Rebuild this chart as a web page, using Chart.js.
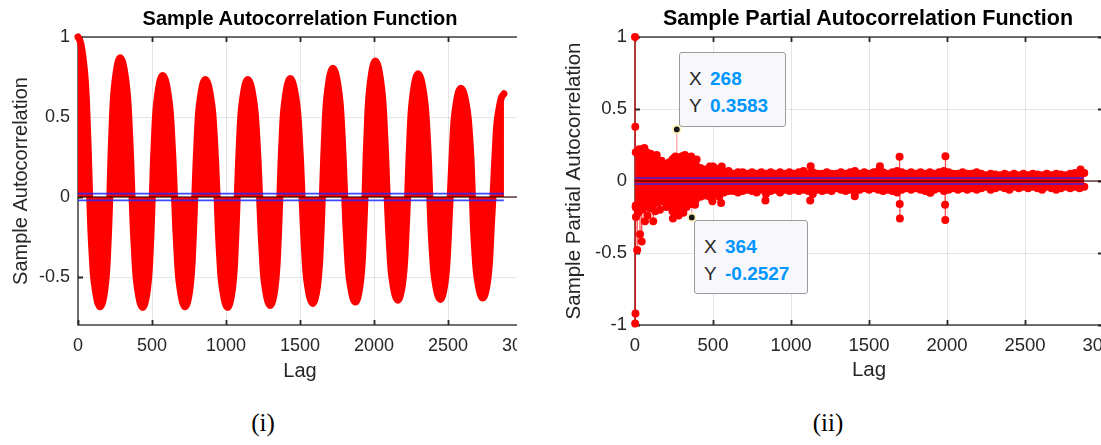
<!DOCTYPE html>
<html><head><meta charset="utf-8">
<script src="https://cdn.jsdelivr.net/npm/chart.js@4.4.0/dist/chart.umd.min.js"></script>
<style>
html,body{margin:0;padding:0;background:#fff;overflow:hidden;width:1101px;height:445px;}
.panel{position:absolute;top:0;height:400px;overflow:hidden;}
#p1{left:0;width:517px;}
#p2{left:550px;width:551px;}
.ttl{position:absolute;font-weight:bold;font-family:"Liberation Sans",Arial,sans-serif;color:#000;white-space:nowrap;transform:translateX(-50%);}
.cap{position:absolute;top:409px;font:25px "Liberation Serif","Times New Roman",serif;color:#000;transform:translateX(-50%);}
.tip{position:absolute;box-sizing:border-box;background:#f8f8fc;border:1px solid #9a9a9a;border-radius:3px;
 font:19px "Liberation Sans",Arial,sans-serif;color:#262626;line-height:27px;padding:12px 0 0 9px;white-space:nowrap;}
.tip .k{display:inline-block;width:21px;}
.tip b{color:#0096ff;}
</style></head>
<body>
<div class="panel" id="p1"><canvas id="c1" width="600" height="400"></canvas></div>
<div class="panel" id="p2"><canvas id="c2" width="600" height="400"></canvas></div>
<div class="ttl" style="left:300px;top:7px;font-size:20px">Sample Autocorrelation Function</div>
<div class="ttl" style="left:868px;top:6px;font-size:21.5px">Sample Partial Autocorrelation Function</div>
<div class="tip" style="left:679px;top:52px;width:107px;height:75px"><span class="k">X</span><b>268</b><br><span class="k">Y</span><b>0.3583</b></div>
<div class="tip" style="left:694px;top:220px;width:114px;height:74px"><span class="k">X</span><b>364</b><br><span class="k">Y</span><b>-0.2527</b></div>
<div class="cap" style="left:263px">(i)</div>
<div class="cap" style="left:828px">(ii)</div>
<script>
// ---------- data ----------
const xTicks = [0, 500, 1000, 1500, 2000, 2500, 3000];
const acfYTicks = [-0.5, 0, 0.5, 1];
const pacfYTicks = [-1, -0.5, 0, 0.5, 1];
const confBound = 0.021;
const maxLag = 2877;

const acfLags = [0,19,38,50,58,69,79,
87,98,105,116,133,151,166,182,191,198,207,215,
223,233,240,251,268,285,304,323,335,343,355,365,
374,385,392,403,420,438,453,469,478,485,494,502,
510,520,527,538,555,572,591,610,622,630,642,652,
661,672,679,690,707,725,740,756,765,772,781,789,
798,808,815,826,843,860,879,898,910,918,930,940,
948,959,966,977,994,1012,1027,1043,1052,1059,1068,1076,
1085,1095,1102,1113,1130,1147,1166,1185,1197,1205,1217,1227,
1236,1247,1254,1265,1282,1300,1315,1331,1340,1347,1356,1364,
1372,1382,1389,1400,1417,1434,1453,1472,1484,1492,1504,1514,
1523,1534,1541,1552,1569,1587,1602,1618,1627,1634,1643,1651,
1660,1670,1677,1688,1705,1722,1741,1760,1772,1780,1792,1802,
1811,1822,1829,1840,1857,1875,1890,1906,1915,1922,1931,1939,
1947,1957,1964,1975,1992,2009,2028,2047,2059,2067,2079,2089,
2098,2109,2116,2127,2144,2162,2177,2193,2202,2209,2218,2227,
2236,2246,2253,2264,2281,2298,2317,2336,2348,2356,2368,2377,
2385,2396,2403,2414,2431,2449,2464,2480,2489,2496,2505,2515,
2525,2535,2542,2553,2570,2587,2606,2625,2637,2645,2657,2665,
2672,2683,2690,2701,2718,2736,2751,2767,2776,2783,2792,2804,
2814,2824,2831,2843,2860,2878];
const acfValues = [1.0,0.96,0.84,0.72,0.58,0.30,0,
-0.206,-0.398,-0.494,-0.576,-0.659,-0.686,-0.659,-0.576,-0.494,-0.398,-0.206,0,
0.261,0.505,0.626,0.731,0.835,0.87,0.835,0.731,0.626,0.505,0.261,0,
-0.207,-0.400,-0.497,-0.580,-0.662,-0.69,-0.662,-0.580,-0.497,-0.400,-0.207,0,
0.228,0.441,0.547,0.638,0.730,0.76,0.730,0.638,0.547,0.441,0.228,0,
-0.206,-0.398,-0.494,-0.576,-0.659,-0.686,-0.659,-0.576,-0.494,-0.398,-0.206,0,
0.221,0.426,0.529,0.617,0.706,0.735,0.706,0.617,0.529,0.426,0.221,0,
-0.207,-0.400,-0.497,-0.580,-0.662,-0.69,-0.662,-0.580,-0.497,-0.400,-0.207,0,
0.221,0.426,0.529,0.617,0.706,0.735,0.706,0.617,0.529,0.426,0.221,0,
-0.203,-0.393,-0.488,-0.570,-0.651,-0.678,-0.651,-0.570,-0.488,-0.393,-0.203,0,
0.222,0.429,0.533,0.622,0.710,0.74,0.710,0.622,0.533,0.429,0.222,0,
-0.200,-0.386,-0.479,-0.559,-0.638,-0.665,-0.638,-0.559,-0.479,-0.386,-0.200,0,
0.242,0.467,0.580,0.676,0.773,0.805,0.773,0.676,0.580,0.467,0.242,0,
-0.197,-0.381,-0.473,-0.552,-0.631,-0.657,-0.631,-0.552,-0.473,-0.381,-0.197,0,
0.255,0.493,0.612,0.714,0.816,0.85,0.816,0.714,0.612,0.493,0.255,0,
-0.194,-0.374,-0.464,-0.542,-0.619,-0.645,-0.619,-0.542,-0.464,-0.374,-0.194,0,
0.231,0.447,0.554,0.647,0.739,0.77,0.739,0.647,0.554,0.447,0.231,0,
-0.192,-0.371,-0.461,-0.538,-0.614,-0.64,-0.614,-0.538,-0.461,-0.371,-0.192,0,
0.204,0.394,0.490,0.571,0.653,0.68,0.653,0.571,0.490,0.394,0.204,0,
-0.190,-0.367,-0.455,-0.531,-0.607,-0.632,-0.607,-0.531,-0.455,-0.367,-0.190,0,
0.194,0.374,0.464,0.542,0.619,0.645];

const pacfBandLags = [5,30,60,90,120,150,180,210,240,270,300,330,360,390,420,450,480,510,540,570,
600,630,660,690,720,750,780,810,840,870,900,930,960,990,1020,1050,1080,1110,1140,1170,
1200,1230,1260,1290,1320,1350,1380,1410,1440,1470,1500,1530,1560,1590,1620,1650,1680,1710,1740,1770,
1800,1830,1860,1890,1920,1950,1980,2010,2040,2070,2100,2130,2160,2190,2220,2250,2280,2310,2340,2370,
2400,2430,2460,2490,2520,2550,2580,2610,2640,2670,2700,2730,2760,2790,2820,2850,2880];
const pacfUpper = [0.20,0.21,0.20,0.17,0.17,0.13,0.11,0.12,0.15,0.16,0.17,0.16,0.15,0.11,0.09,0.08,0.10,0.09,0.08,0.06,
0.07,0.05,0.06,0.06,0.05,0.06,0.05,0.06,0.05,0.06,0.05,0.06,0.05,0.06,0.05,0.06,0.07,0.05,0.06,0.05,
0.05,0.06,0.05,0.05,0.06,0.05,0.06,0.07,0.05,0.06,0.05,0.06,0.07,0.06,0.05,0.06,0.07,0.06,0.05,0.06,
0.05,0.06,0.05,0.06,0.05,0.06,0.07,0.06,0.05,0.05,0.06,0.05,0.05,0.06,0.05,0.04,0.05,0.045,0.04,0.05,
0.04,0.05,0.04,0.05,0.04,0.05,0.045,0.04,0.05,0.04,0.05,0.045,0.04,0.05,0.055,0.05,0.055];
const pacfLower = [-0.17,-0.19,-0.17,-0.18,-0.16,-0.15,-0.14,-0.17,-0.21,-0.22,-0.20,-0.18,-0.16,-0.13,-0.11,-0.10,-0.11,-0.09,-0.11,-0.08,
-0.07,-0.07,-0.08,-0.07,-0.06,-0.07,-0.08,-0.06,-0.09,-0.07,-0.06,-0.08,-0.06,-0.07,-0.06,-0.07,-0.06,-0.07,-0.09,-0.06,
-0.07,-0.06,-0.07,-0.05,-0.06,-0.07,-0.06,-0.08,-0.06,-0.05,-0.06,-0.05,-0.06,-0.07,-0.06,-0.07,-0.08,-0.06,-0.05,-0.06,
-0.05,-0.06,-0.07,-0.08,-0.06,-0.05,-0.07,-0.06,-0.05,-0.06,-0.05,-0.06,-0.05,-0.06,-0.05,-0.04,-0.06,-0.05,-0.04,-0.05,
-0.06,-0.04,-0.05,-0.04,-0.05,-0.04,-0.05,-0.06,-0.04,-0.05,-0.06,-0.05,-0.04,-0.05,-0.04,-0.05,-0.04];

const pacfSpikeLags = [0,1,2,3,4,6,14,32,43,64,117,27,60,139,243,280,310,385,496,552,250,300,340,395,500,556,
836,1123,1126,1409,1570,1696,1697,1698,1988,1989,1990,1894,2856,
10,20,50,80,100,130,160,200,12,45,75,100,170,220,260,320,360];
const pacfSpikeValues = [1.0,-0.99,0.377,-0.92,-0.18,-0.25,-0.48,-0.37,-0.42,-0.28,-0.28,0.22,0.23,0.18,-0.26,-0.24,-0.22,-0.165,-0.14,-0.153,0.16,0.17,0.16,0.15,0.10,0.10,
-0.136,-0.136,0.103,-0.106,0.103,0.168,-0.16,-0.26,-0.165,-0.27,0.172,-0.082,0.08,
-0.19,-0.22,-0.20,-0.24,-0.19,-0.21,-0.20,-0.18,0.20,0.22,0.20,0.19,0.14,0.13,0.17,0.18,0.17];

const tipLags = [268, 364];
const tipValues = [0.3583, -0.2527];

// ---------- helpers ----------
const FONT = '"Liberation Sans", Arial, Helvetica, sans-serif';
const RED = '#ff0000';
const pts = (xs, ys) => xs.map((x, i) => ({x: x, y: ys[i]}));

const boxPlugin = {
  id: 'box',
  beforeDatasetsDraw(chart) {
    const {ctx, chartArea: a, scales: {x, y}} = chart;
    ctx.save();
    ctx.strokeStyle = '#262626';
    ctx.lineWidth = 1.3;
    ctx.strokeRect(a.left, a.top, a.right - a.left, a.bottom - a.top);
    ctx.beginPath();
    x.ticks.forEach(t => {
      const px = Math.round(x.getPixelForValue(t.value)) + 0.5;
      ctx.moveTo(px, a.bottom); ctx.lineTo(px, a.bottom - 5);
      ctx.moveTo(px, a.top); ctx.lineTo(px, a.top + 5);
    });
    y.ticks.forEach(t => {
      const py = Math.round(y.getPixelForValue(t.value)) + 0.5;
      ctx.moveTo(a.left, py); ctx.lineTo(a.left + 5, py);
      ctx.moveTo(a.right, py); ctx.lineTo(a.right - 5, py);
    });
    ctx.lineWidth = 1.8;
    ctx.stroke();
    ctx.restore();
  }
};

const stemPlugin = {
  id: 'stems',
  beforeDatasetsDraw(chart) {
    const {ctx, scales: {y}} = chart;
    const y0 = y.getPixelForValue(0);
    chart.data.datasets.forEach((ds, i) => {
      if (!ds.stem) return;
      const meta = chart.getDatasetMeta(i);
      ctx.save();
      ctx.strokeStyle = ds.stemColor;
      ctx.lineWidth = ds.stemWidth;
      ctx.beginPath();
      meta.data.forEach(p => { ctx.moveTo(p.x, y0); ctx.lineTo(p.x, p.y); });
      ctx.stroke();
      ctx.restore();
    });
  }
};

function scales(yTicks, ymin, ymax, yWidth, yTitle, yTitlePad, tickSize, labelSize) {
  return {
    x: {
      type: 'linear', min: 0, max: 3000,
      afterBuildTicks: s => { s.ticks = xTicks.map(v => ({value: v})); },
      afterFit: s => { s.height = 75; },
      grid: {color: 'rgba(0,0,0,0.10)', lineWidth: 1, drawTicks: false},
      border: {display: false},
      ticks: {autoSkip: false, maxRotation: 0, padding: 10, color: '#262626',
              font: {family: FONT, size: tickSize}, callback: v => String(v)},
      title: {display: true, text: 'Lag', color: '#262626',
              font: {family: FONT, size: labelSize}, padding: {top: 0, bottom: 17}}
    },
    y: {
      type: 'linear', min: ymin, max: ymax,
      afterBuildTicks: s => { s.ticks = yTicks.map(v => ({value: v})); },
      afterFit: s => { s.width = yWidth; },
      grid: {color: 'rgba(0,0,0,0.10)', lineWidth: 1, drawTicks: false},
      border: {display: false},
      ticks: {padding: 8, color: '#262626', font: {family: FONT, size: tickSize}, callback: v => String(v)},
      title: {display: true, text: yTitle, color: '#262626',
              font: {family: FONT, size: labelSize}, padding: {top: yTitlePad, bottom: 0}}
    }
  };
}

function refLines() {
  return [
    {data: [{x: 0, y: confBound}, {x: maxLag, y: confBound}], borderColor: 'rgba(30,40,255,0.85)', borderWidth: 1.6, pointRadius: 0, order: 0, clip: false},
    {data: [{x: 0, y: -confBound}, {x: maxLag, y: -confBound}], borderColor: 'rgba(30,40,255,0.85)', borderWidth: 1.6, pointRadius: 0, order: 0, clip: false},
    {data: [{x: 0, y: 0}, {x: 3000, y: 0}], borderColor: 'rgba(45,0,0,0.75)', borderWidth: 1.6, pointRadius: 0, order: 1}
  ];
}

const common = {type: 'line', plugins: [boxPlugin, stemPlugin]};
const baseOpts = (padRight, sc) => ({
  responsive: false, animation: false, devicePixelRatio: 1, events: [],
  layout: {padding: {left: 0, top: 37, right: padRight, bottom: 0}},
  plugins: {legend: {display: false}, tooltip: {enabled: false}, title: {display: false}},
  scales: sc
});

// ---------- ACF ----------
new Chart(document.getElementById('c1'), {
  ...common,
  data: {datasets: [
    ...refLines(),
    {data: pts(acfLags, acfValues), borderColor: RED, backgroundColor: RED, borderWidth: 7,
     fill: 'origin', pointRadius: 0, cubicInterpolationMode: 'monotone',
     borderJoinStyle: 'round', borderCapStyle: 'round', order: 3, clip: false}
  ]},
  options: baseOpts(78, scales(acfYTicks, -0.8, 1, 78, 'Sample Autocorrelation', 9, 18, 20))
});

// ---------- PACF ----------
new Chart(document.getElementById('c2'), {
  ...common,
  data: {datasets: [
    ...refLines(),
    {data: pts(pacfBandLags, pacfUpper), borderWidth: 0, borderColor: RED, backgroundColor: RED,
     fill: '+1', pointRadius: 4, pointBackgroundColor: RED, pointBorderWidth: 0, order: 4, clip: false},
    {data: pts(pacfBandLags, pacfLower), borderWidth: 0, borderColor: RED, backgroundColor: RED,
     fill: false, pointRadius: 4, pointBackgroundColor: RED, pointBorderWidth: 0, order: 5, clip: false},
    {data: pts(pacfSpikeLags, pacfSpikeValues), showLine: false, pointRadius: 4,
     pointBackgroundColor: RED, pointBorderWidth: 0, order: 3, clip: false,
     stem: true, stemColor: 'rgba(255,0,0,0.75)', stemWidth: 1.2},
    {data: pts(tipLags, tipValues), showLine: false, pointRadius: 3.8,
     pointBackgroundColor: '#1a1a1a', pointBorderColor: '#fff3b8', pointBorderWidth: 1.8, order: -1, clip: false,
     stem: true, stemColor: 'rgba(255,60,60,0.6)', stemWidth: 1}
  ]},
  options: baseOpts(47, scales(pacfYTicks, -1, 1, 85, 'Sample Partial Autocorrelation', 12, 18.5, 20.5))
});
</script>
</body></html>
